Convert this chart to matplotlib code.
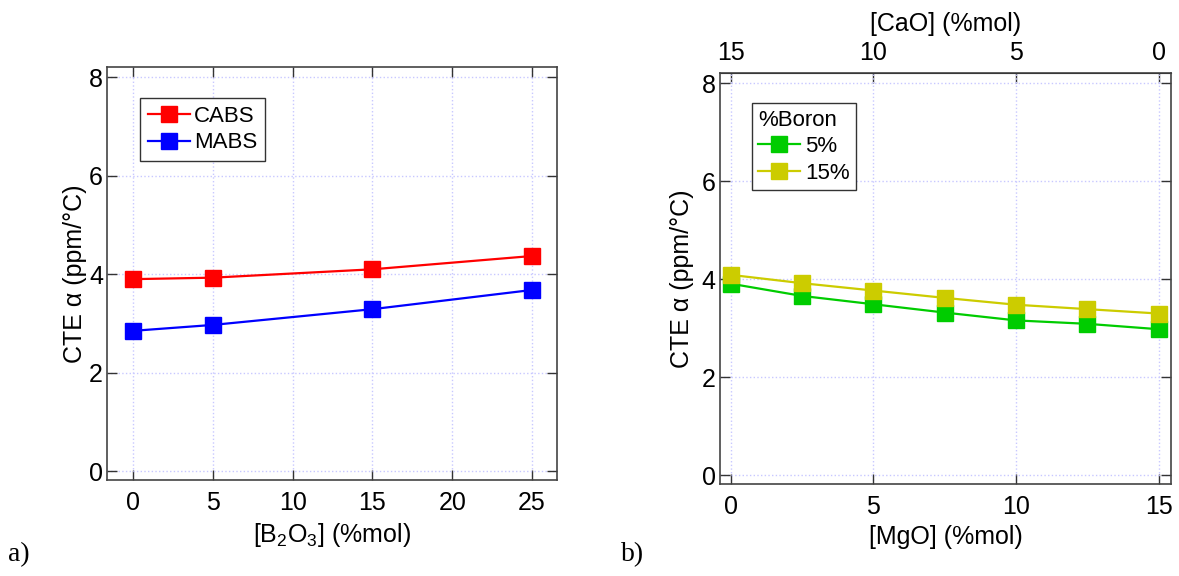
import matplotlib
matplotlib.use("Agg")
import matplotlib.pyplot as plt

plt.rcParams['font.family'] = ['Liberation Sans', 'DejaVu Sans']
plt.rcParams['mathtext.fontset'] = 'custom'
plt.rcParams['mathtext.rm'] = 'Liberation Sans'

# panel a) data
b2o3 = [0, 5, 15, 25]
cabs = [3.90, 3.93, 4.10, 4.37]
mabs = [2.85, 2.97, 3.29, 3.68]

# panel b) data
mgo = [0, 2.5, 5, 7.5, 10, 12.5, 15]
boron5 = [3.91, 3.66, 3.49, 3.32, 3.16, 3.09, 2.98]
boron15 = [4.09, 3.92, 3.77, 3.62, 3.48, 3.39, 3.30]
cao_ticks = [15, 10, 5, 0]

grid_col = '#c8c8ff'
fs = 18

fig = plt.figure(figsize=(11.79, 5.76), dpi=100)
ax1 = fig.add_axes([0.0908, 0.1667, 0.3817, 0.717])
ax2 = fig.add_axes([0.6107, 0.1597, 0.3825, 0.7135])


def style(ax):
    ax.tick_params(direction='in', top=True, right=True, length=7, width=1,
                   labelsize=fs, color='#333333')
    ax.tick_params(axis='y', pad=3)
    ax.tick_params(axis='x', pad=8)
    ax.grid(True, color=grid_col, linestyle=':', linewidth=1)
    ax.set_axisbelow(True)
    for s in ax.spines.values():
        s.set_color('#444444')
        s.set_linewidth(1.2)
    ax.set_ylim(-0.18, 8.21)
    ax.set_yticks([0, 2, 4, 6, 8])


# a)
ax1.plot(b2o3, cabs, '-s', color='#ff0000', lw=1.6, ms=12, label='CABS')
ax1.plot(b2o3, mabs, '-s', color='#0000ff', lw=1.6, ms=12, label='MABS')
style(ax1)
ax1.set_xlim(-1.63, 26.57)
ax1.set_xticks([0, 5, 10, 15, 20, 25])
ax1.set_xlabel(r'[B$\mathregular{_2}$O$\mathregular{_3}$] (%mol)', fontsize=fs, labelpad=4)
ax1.set_ylabel('CTE α (ppm/°C)', fontsize=fs, labelpad=1)
leg1 = ax1.legend(loc='upper left', bbox_to_anchor=(0.073, 0.925), fontsize=16,
                  handlelength=1.9, handletextpad=0.2, borderpad=0.35,
                  labelspacing=0.25, fancybox=False, framealpha=1,
                  borderaxespad=0)
leg1.get_frame().set_edgecolor('#333333')

# b)
ax2.plot(mgo, boron5, '-s', color='#00cc00', lw=1.6, ms=12, label='5%')
ax2.plot(mgo, boron15, '-s', color='#cccc00', lw=1.6, ms=12, label='15%')
style(ax2)
ax2.tick_params(top=False)
ax2.set_xlim(-0.37, 15.43)
ax2.set_xticks([0, 5, 10, 15])
ax2.set_xlabel('[MgO] (%mol)', fontsize=fs, labelpad=4)
ax2.set_ylabel('CTE α (ppm/°C)', fontsize=fs, labelpad=6)
leg2 = ax2.legend(loc='upper left', bbox_to_anchor=(0.07, 0.927), fontsize=16,
                  title='%Boron', title_fontsize=16, alignment='left',
                  handlelength=1.9, handletextpad=0.2, borderpad=0.3,
                  labelspacing=0.25, fancybox=False, framealpha=1,
                  borderaxespad=0)
leg2.get_frame().set_edgecolor('#333333')

top = ax2.secondary_xaxis('top', functions=(lambda x: 15 - x, lambda x: 15 - x))
top.set_xticks(cao_ticks)
top.tick_params(direction='in', length=7, width=1, labelsize=fs, pad=6, color='#333333')
top.set_xlabel('[CaO] (%mol)', fontsize=fs, labelpad=7)

fig.text(0.007, 0.025, 'a)', fontsize=20, family='Liberation Serif')
fig.text(0.527, 0.025, 'b)', fontsize=20, family='Liberation Serif')

fig.savefig('out.png', dpi=100)
